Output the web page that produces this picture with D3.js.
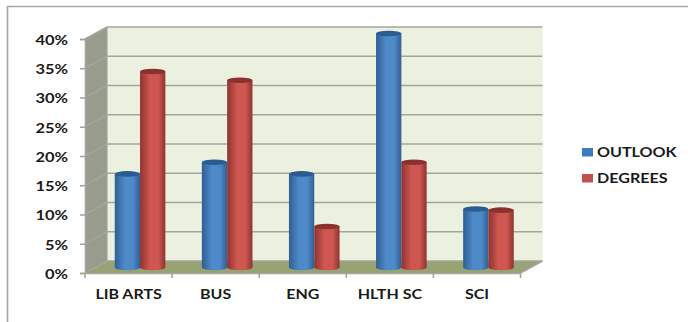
<!DOCTYPE html>
<html>
<head>
<meta charset="utf-8">
<script src="https://cdn.jsdelivr.net/npm/d3@7/dist/d3.min.js"></script>
<style>
html,body{margin:0;padding:0;background:#fff}
svg{display:block}
text{font-family:Lato,sans-serif;font-weight:700;fill:#1a1a1a}
</style>
</head>
<body>
<svg id="chart" width="688" height="322"></svg>
<script>
const categories = ["LIB ARTS", "BUS", "ENG", "HLTH SC", "SCI"];
const outlook = [16, 18, 16, 40, 10];
const degrees = [33.5, 32, 7, 18, 9.8];
const yTicks = [0, 5, 10, 15, 20, 25, 30, 35, 40];

const seriesList = [
  {name: "OUTLOOK", values: outlook, key: "blue", side: "#2f5f94", mid: "#4f8ac8", top: "#2a5c92", swatch: "#3f7cbf"},
  {name: "DEGREES", values: degrees, key: "red", side: "#8f3331", mid: "#cf5751", top: "#8a302e", swatch: "#c0504d"}
];

const svg = d3.select("#chart");
const defs = svg.append("defs");

// widens labels by a common factor, keeping the glyphs' proportions to each other
function widen(sel, factor) {
  sel.each(function () {
    const len = this.getComputedTextLength();
    d3.select(this).attr("textLength", len * factor).attr("lengthAdjust", "spacingAndGlyphs");
  });
}

seriesList.forEach(s => {
  const g = defs.append("linearGradient").attr("id", "cyl-" + s.key);
  g.append("stop").attr("offset", "0%").attr("stop-color", s.side);
  g.append("stop").attr("offset", "40%").attr("stop-color", s.mid);
  g.append("stop").attr("offset", "72%").attr("stop-color", s.mid);
  g.append("stop").attr("offset", "100%").attr("stop-color", s.side);
});

// outer frame of the slide panel
svg.append("path")
  .attr("d", "M7.5,322V6.5H688")
  .attr("fill", "none").attr("stroke", "#a6a6a6").attr("stroke-width", 1.6);

const x0 = 85, x1 = 520.5, depthX = 22, depthY = -12;
const y = d3.scaleLinear().domain([0, 40]).range([273, 39]);
const xBand = d3.scaleBand().domain(categories).range([x0, x1]);
const xBar = d3.scaleBand().domain(seriesList.map(s => s.name)).range([-25.3, 25.3]);
const grey = "#a5a5a0";

// back wall, side wall and floor
svg.append("rect")
  .attr("x", x0 + depthX).attr("y", y(40) + depthY)
  .attr("width", x1 - x0).attr("height", y(0) - y(40))
  .attr("fill", "#ebf1de");
svg.append("path")
  .attr("d", d3.line()([[x0, y(0)], [x0, y(40)], [x0 + depthX, y(40) + depthY], [x0 + depthX, y(0) + depthY]]) + "Z")
  .attr("fill", "#979c8c");
svg.append("path")
  .attr("d", d3.line()([[x0, y(0)], [x1, y(0)], [x1 + depthX, y(0) + depthY], [x0 + depthX, y(0) + depthY]]) + "Z")
  .attr("fill", "#97a372");

// gridlines run along the side wall and across the back wall
svg.append("g").selectAll("path").data(yTicks).join("path")
  .attr("d", d => d3.line()([[x0, y(d)], [x0 + depthX, y(d) + depthY], [x1 + depthX, y(d) + depthY]]))
  .attr("fill", "none").attr("stroke", grey).attr("stroke-width", 1.6);
svg.append("path")
  .attr("d", d3.line()([[x0 + depthX, y(0) + depthY], [x0 + depthX, y(40) + depthY]]))
  .attr("stroke", grey).attr("stroke-width", 1.2);
svg.append("path")
  .attr("d", d3.line()([[x1, y(0)], [x1 + depthX, y(0) + depthY]]))
  .attr("stroke", grey).attr("stroke-width", 1.6);

// value axis
const yAxis = d3.axisLeft(y).tickValues(yTicks).tickFormat(d => d + "%").tickSize(5).tickPadding(12);
const yG = svg.append("g").attr("transform", `translate(${x0},0)`).call(yAxis);
yG.selectAll("path,line").attr("stroke", grey).attr("stroke-width", 1.6);
yG.selectAll("text").attr("font-size", 13.5).attr("fill", "#1a1a1a").attr("dy", "0.4em").call(widen, 1.22);

// category axis
const xAxis = d3.axisBottom(xBand).tickSize(0).tickPadding(17);
const xG = svg.append("g").attr("transform", `translate(0,${y(0)})`).call(xAxis);
xG.select("path").attr("stroke", grey).attr("stroke-width", 1.6);
xG.selectAll("text").attr("font-size", 13).attr("fill", "#1a1a1a").call(widen, 1.23);
xG.selectAll("line.sep").data(d3.range(categories.length + 1)).join("line")
  .attr("class", "sep")
  .attr("x1", i => x0 + i * xBand.step()).attr("x2", i => x0 + i * xBand.step())
  .attr("y1", 0).attr("y2", 5)
  .attr("stroke", grey).attr("stroke-width", 1.6);

// cylinders, offset to the middle of the floor's depth
const rowDx = 11.5, rowDy = -5.5, ry = 2.8;
const cylinders = svg.append("g");
seriesList.forEach(s => {
  const g = cylinders.selectAll("g." + s.key).data(categories).join("g").attr("class", s.key);
  const left = c => xBand(c) + xBand.bandwidth() / 2 + rowDx + xBar(s.name);
  const w = xBar.bandwidth();
  const val = i => s.values[i];
  g.append("path")
    .attr("d", (c, i) => {
      const l = left(c), top = y(val(i)) + rowDy, base = y(0) + rowDy;
      return `M${l},${top}V${base}A${w / 2},${ry} 0 0 0 ${l + w},${base}V${top}Z`;
    })
    .attr("fill", `url(#cyl-${s.key})`);
  g.append("ellipse")
    .attr("cx", c => left(c) + w / 2)
    .attr("cy", (c, i) => y(val(i)) + rowDy)
    .attr("rx", w / 2).attr("ry", ry)
    .attr("fill", s.top);
});

// legend
const legendY = d3.scalePoint().domain(seriesList.map(s => s.name)).range([152, 178]);
const legend = svg.append("g").selectAll("g").data(seriesList).join("g")
  .attr("transform", s => `translate(582,${legendY(s.name)})`);
legend.append("rect")
  .attr("y", -4).attr("width", 11).attr("height", 8.5)
  .attr("fill", s => s.swatch);
legend.append("text")
  .attr("x", 15).attr("dy", "0.35em")
  .attr("font-size", 14)
  .text(s => s.name)
  .call(widen, 1.15);
</script>
</body>
</html>
